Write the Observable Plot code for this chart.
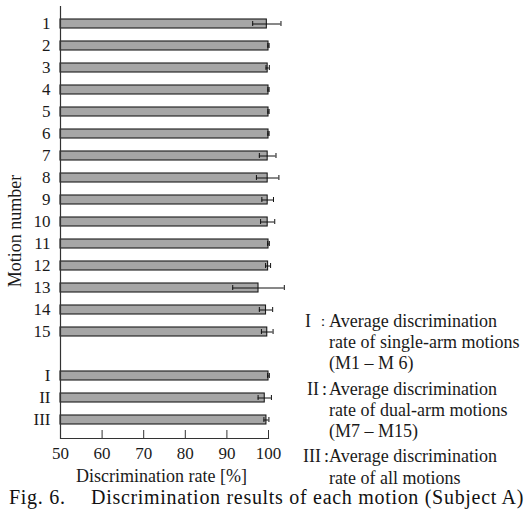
<!DOCTYPE html>
<html><head><meta charset="utf-8">
<script src="https://cdn.jsdelivr.net/npm/d3@7"></script>
<script src="https://cdn.jsdelivr.net/npm/@observablehq/plot@0.6"></script>
<style>
body{margin:0;background:#fff;}
#wrap{position:relative;width:524px;height:521px;overflow:hidden;background:#fff;
  font-family:"Liberation Serif","Times New Roman",serif;color:#1a1a1a;}
#chart svg{display:block;font-family:"Liberation Serif","Times New Roman",serif !important;}
#chart svg text{font-family:"Liberation Serif","Times New Roman",serif !important;}
.lg{position:absolute;font-size:18px;line-height:21px;white-space:nowrap;}
#ylabel{position:absolute;left:15px;top:231px;font-size:18px;line-height:20px;white-space:nowrap;
  transform:translate(-50%,-50%) rotate(-90deg);}
#caption{position:absolute;left:9px;top:487px;font-size:20px;line-height:20px;white-space:nowrap;letter-spacing:0.7px;color:#111;}
#caption .fig{display:inline-block;width:82px;}
</style></head><body>
<div id="wrap"><div id="chart"></div><div id="ylabel"></div><div id="legend"></div><div id="caption"></div></div>
<script>
// ---- data ----
const motions = ["1","2","3","4","5","6","7","8","9","10","11","12","13","14","15"];
const motionRates = [99.6,100,99.8,100,100,100,99.8,99.8,99.8,99.8,100,99.9,97.6,99.4,99.7];
const motionErrors = [3.4,0.15,0.4,0.15,0.15,0.15,2.0,2.7,1.4,1.7,0.2,0.6,6.2,1.6,1.4];
const averages = ["I","II","III"];
const averageRates = [100,99.1,99.5];
const averageErrors = [0.2,1.6,0.6];
const gapKey = "gap";
const xTicks = [50,60,70,80,90,100];
const xDomain = [50,100];
const xLabel = "Discrimination rate [%]";
const yLabel = "Motion number";
const legendNumerals = ["I","II","III"];
const legendSeparators = ["：",":",":"];
const legendTexts = [
  ["Average discrimination","rate of single-arm motions","(M1 – M 6)"],
  ["Average discrimination","rate of dual-arm motions","(M7 – M15)"],
  ["Average discrimination","rate of all motions"]
];
const captionFig = "Fig. 6.";
const captionText = "Discrimination results of each motion (Subject A)";

// ---- build ----
const rows = [
  ...motions.map((m,i)=>({name:m, rate:motionRates[i], err:motionErrors[i]})),
  ...averages.map((m,i)=>({name:m, rate:averageRates[i], err:averageErrors[i]}))
];
const yDomain = [...motions, gapKey, ...averages];
const font = '"Liberation Serif","Times New Roman",serif';

const chart = Plot.plot({
  width: 524, height: 490,
  marginLeft: 60, marginRight: 256, marginTop: 6, marginBottom: 52,
  style: {fontFamily: font, fontSize: "17px", color: "#1a1a1a", background: "white", overflow: "visible"},
  x: {domain: xDomain},
  y: {domain: yDomain, paddingInner: 0.57, paddingOuter: 0.6},
  marks: [
    Plot.barX(rows, {y: "name", x1: xDomain[0], x2: "rate", fill: "#a6a6a6", stroke: "#1a1a1a", strokeWidth: 1.1}),
    Plot.ruleY(rows, {y: "name", x1: d => d.rate - d.err, x2: d => d.rate + d.err, stroke: "#111", strokeWidth: 1}),
    Plot.tickX(rows, {y: "name", x: d => d.rate - d.err, insetTop: 2, insetBottom: 2, stroke: "#111"}),
    Plot.tickX(rows, {y: "name", x: d => d.rate + d.err, insetTop: 2, insetBottom: 2, stroke: "#111"}),
    Plot.ruleX([xDomain[0]], {stroke: "#333", strokeWidth: 1.2}),
    Plot.frame({anchor: "bottom", stroke: "#333", strokeWidth: 1.2}),
    Plot.axisY({ticks: [...motions, ...averages], tickSize: 0, tickPadding: 10, label: null, fontSize: 17}),
    Plot.axisX({ticks: xTicks, tickSize: -8, tickPadding: 16, label: null, fontSize: 17, stroke: "#333"}),
    Plot.text([xLabel], {text: d => d, frameAnchor: "bottom", dy: 43, dx: -3, fontSize: 18})
  ]
});
document.getElementById("chart").append(chart);
document.getElementById("ylabel").textContent = yLabel;

// ---- legend (HTML overlay) ----
const legend = document.getElementById("legend");
const groupCenters = [[322,343,364],[390,411,432],[457,479]];
const numeralLeft = [305,307,303];
const sepLeft = [316,322,324];
legendNumerals.forEach((n,g) => {
  const c0 = groupCenters[g][0];
  const num = document.createElement("div");
  num.className = "lg"; num.textContent = n;
  num.style.left = numeralLeft[g] + "px"; num.style.top = (c0 - 11.5) + "px";
  legend.append(num);
  const sep = document.createElement("div");
  sep.className = "lg"; sep.textContent = legendSeparators[g];
  sep.style.left = sepLeft[g] + "px"; sep.style.top = (c0 - 11.5) + "px";
  if (g === 0) sep.style.fontSize = "14px";
  legend.append(sep);
  legendTexts[g].forEach((t,k) => {
    const d = document.createElement("div");
    d.className = "lg"; d.textContent = t;
    d.style.left = "329px"; d.style.top = (groupCenters[g][k] - 11.5) + "px";
    legend.append(d);
  });
});

// ---- caption ----
const cap = document.getElementById("caption");
const f = document.createElement("span"); f.className = "fig"; f.textContent = captionFig;
const t = document.createElement("span"); t.textContent = captionText;
cap.append(f, t);
</script>
</body></html>
